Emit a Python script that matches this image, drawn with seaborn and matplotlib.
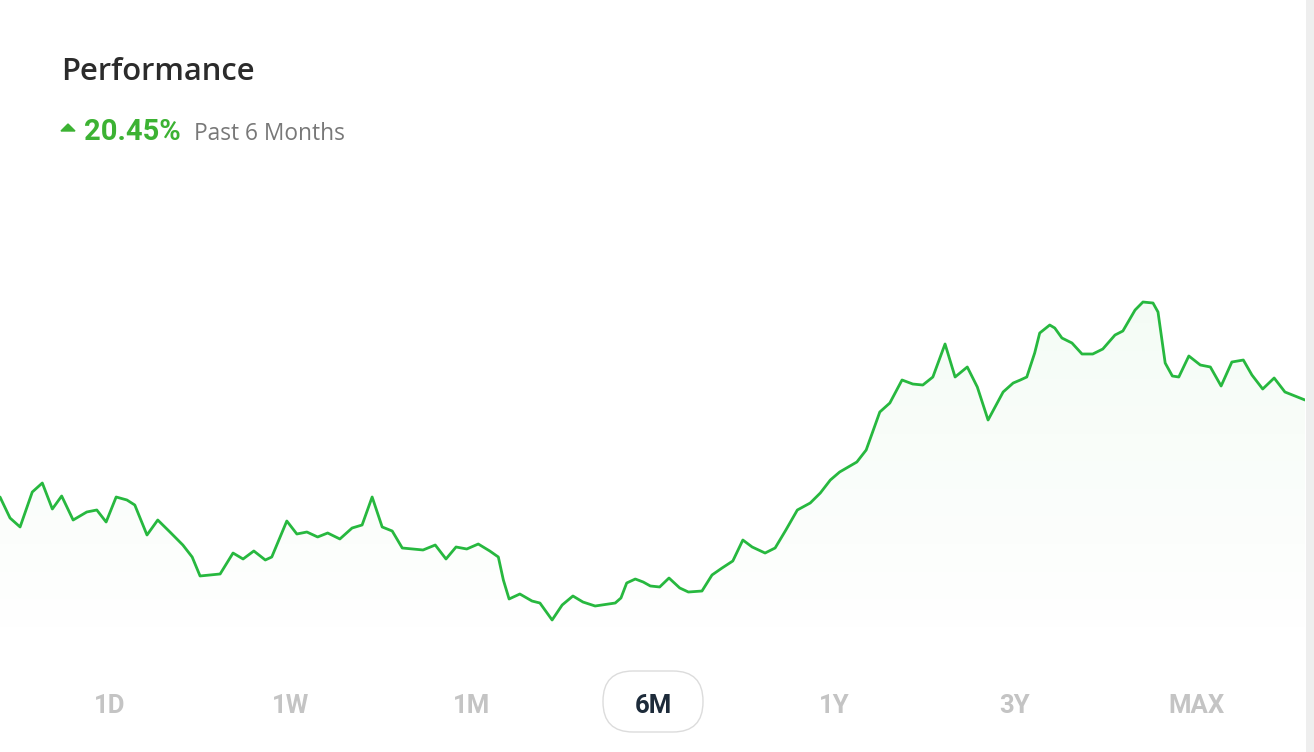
import numpy as np
import matplotlib
matplotlib.use("Agg")
import matplotlib.pyplot as plt
from matplotlib.patches import Polygon, FancyBboxPatch, Rectangle
from matplotlib.transforms import IdentityTransform
import seaborn as sns

# Performance over the past 6 months (calendar days since start, % return)
days = [0.0, 1.4, 2.8, 4.5, 5.9, 7.3, 8.6, 10.2, 12.1, 13.5, 14.8, 16.2, 17.7, 18.8,
        20.5, 22.0, 23.7, 25.5, 26.8, 27.9, 30.7, 32.5, 33.9, 35.4, 37.0, 37.9, 40.0,
        41.4, 42.8, 44.3, 45.7, 47.4, 49.1, 50.5, 51.9, 53.3, 54.7, 56.1, 59.0, 60.7,
        62.2, 63.6, 65.1, 66.7, 68.3, 69.5, 70.2, 71.0, 72.5, 74.2, 75.3, 77.0, 78.4,
        79.9, 81.3, 83.0, 85.8, 86.6, 87.4, 88.6, 89.7, 90.7, 92.0, 93.3, 94.8, 96.0,
        97.9, 99.3, 100.7, 102.2, 103.6, 104.9, 106.7, 108.1, 109.6, 111.2, 113.0,
        114.4, 115.8, 117.1, 119.5, 120.8, 122.7, 124.1, 125.8, 127.3, 128.7, 130.1,
        131.8, 133.2, 134.9, 136.3, 137.8, 139.9, 141.3, 142.3, 143.2, 144.3, 145.0,
        146.4, 147.1, 148.1, 149.5, 150.9, 152.4, 153.8, 155.5, 156.6, 158.3, 159.4,
        160.8, 161.5, 162.5, 163.5, 164.4, 165.8, 167.4, 168.8, 170.3, 171.8, 173.4,
        174.6, 176.1, 177.7, 179.2, 182.0]
returns = [0.00, -4.43, -6.32, 1.05, 2.95, -2.53, 0.21, -4.85, -3.16, -2.74, -5.27, 0.00,
           -0.63, -1.69, -8.01, -4.85, -7.38, -10.12, -12.65, -16.65, -16.23, -11.81,
           -13.07, -11.38, -13.28, -12.65, -5.06, -7.80, -7.38, -8.43, -7.59, -8.85,
           -6.54, -5.90, 0.00, -6.32, -7.17, -10.75, -11.17, -10.12, -13.07, -10.54,
           -10.96, -9.91, -11.38, -12.65, -17.50, -21.50, -20.45, -21.93, -22.35,
           -25.93, -22.77, -20.87, -22.14, -22.98, -22.35, -21.29, -18.13, -17.29,
           -17.92, -18.76, -18.97, -17.08, -19.18, -20.03, -19.82, -16.44, -14.97,
           -13.49, -9.07, -10.54, -11.81, -10.75, -6.96, -2.74, -1.26, 0.84, 3.58,
           5.27, 7.38, 9.91, 17.92, 19.82, 24.67, 23.82, 23.61, 25.30, 32.26, 25.30,
           27.41, 23.19, 16.23, 22.14, 24.03, 24.67, 25.30, 30.36, 34.57, 36.26, 35.63,
           33.52, 32.47, 30.15, 30.15, 31.20, 34.15, 35.00, 39.42, 41.11, 40.90, 39.00,
           28.25, 25.51, 25.30, 29.73, 27.83, 27.41, 23.40, 28.46, 28.88, 25.72, 22.77,
           25.09, 22.14, 20.45]

range_labels = ['1D', '1W', '1M', '6M', '1Y', '3Y', 'MAX']
selected_range = '6M'
total_return = '20.45%'
period_text = 'Past 6 Months'

GREEN = '#27b83f'
W, H = 1314, 752

sns.set_style('white')
fig = plt.figure(figsize=(W / 100, H / 100), dpi=100)
fig.patch.set_facecolor('white')

# chart area spans the card width, leaving room for header and range buttons
ax = fig.add_axes([0, 97 / H, 1305 / W, 495 / H])
y_bottom, y_top = -33.31, 71.05

# soft green gradient under the curve
verts = np.column_stack([np.r_[days, days[::-1]],
                         np.r_[returns, [y_bottom] * len(days)]])
clip = Polygon(verts, closed=True, facecolor='none', edgecolor='none')
ax.add_patch(clip)
grad = np.zeros((256, 1, 4))
grad[..., :3] = matplotlib.colors.to_rgb('#28be3c')
grad[..., 3] = np.linspace(0.05, 0.0, 256).reshape(-1, 1)
im = ax.imshow(grad, extent=[days[0], days[-1], y_bottom, max(returns)],
               aspect='auto', origin='upper', zorder=1, interpolation='bilinear')
im.set_clip_path(clip)

sns.lineplot(x=days, y=returns, ax=ax, color=GREEN, linewidth=2.0,
             estimator=None, zorder=3, solid_joinstyle='round',
             solid_capstyle='round')
ax.set_xlim(days[0], days[-1])
ax.set_ylim(y_bottom, y_top)
ax.axis('off')

# header
fig.text(61 / W, 1 - 80 / H, 'Performance', fontsize=22.3, fontweight='semibold',
         family='Open Sans', color='#2b2b2b', va='baseline')
tri = Polygon([[61 / W, 1 - 131 / H], [75 / W, 1 - 131 / H], [68 / W, 1 - 124 / H]],
              closed=True, transform=fig.transFigure, color='#3cb233')
fig.patches.append(tri)
fig.text(84 / W, 1 - 140 / H, total_return, fontsize=21, fontweight='bold',
         family='Roboto', color='#3cb233', va='baseline')
fig.text(194 / W, 1 - 140 / H, period_text, fontsize=16.4, family='Open Sans',
         color='#787878', va='baseline')

# time range selector
for i, lab in enumerate(range_labels):
    cx = 110 + i * 181
    if lab == selected_range:
        pill = FancyBboxPatch((cx - 50, H - 732), 100, 61,
                              boxstyle='round,pad=0,rounding_size=30',
                              transform=IdentityTransform(), facecolor='white',
                              edgecolor='#dcdcdc', linewidth=1.0)
        fig.patches.append(pill)
        color = '#1d2b3a'
    else:
        color = '#c4c4c4'
    fig.text(cx / W, 1 - 706 / H, lab, fontsize=18.5, fontweight='bold',
             family='Roboto', color=color, ha='center', va='center')

# grey edge on the right
fig.patches.append(Rectangle((1306 / W, 0), 8 / W, 1, transform=fig.transFigure,
                             facecolor='#eeeeee', edgecolor='none'))

plt.savefig('out.png', dpi=100)
